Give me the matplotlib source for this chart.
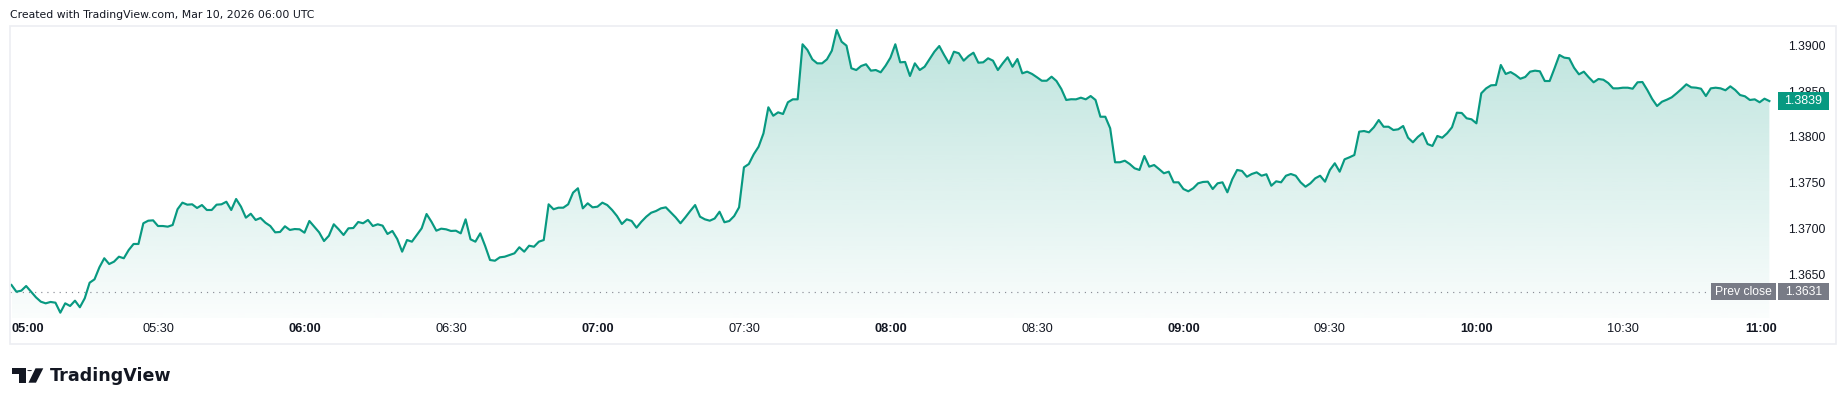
import numpy as np
import matplotlib
matplotlib.use("Agg")
import matplotlib.pyplot as plt
from matplotlib.patches import Rectangle, Polygon, Circle
from matplotlib.colors import to_rgb
from matplotlib.transforms import ScaledTranslation

# ---------------- data (1-minute closes, 05:00 .. 11:00 UTC) ----------------
prices = [
    1.36382, 1.36309, 1.36320, 1.36371, 1.36309, 1.36248, 1.36200, 1.36182, 1.36197, 1.36189,
    1.36080, 1.36182, 1.36153, 1.36211, 1.36139, 1.36237, 1.36407, 1.36444, 1.36575, 1.36674,
    1.36611, 1.36637, 1.36691, 1.36674, 1.36764, 1.36830, 1.36830, 1.37056, 1.37084, 1.37088,
    1.37026, 1.37026, 1.37019, 1.37037, 1.37209, 1.37281, 1.37259, 1.37263, 1.37223, 1.37255,
    1.37201, 1.37201, 1.37259, 1.37263, 1.37291, 1.37201, 1.37321, 1.37237, 1.37117, 1.37160,
    1.37092, 1.37114, 1.37062, 1.37026, 1.36957, 1.36961, 1.37023, 1.36983, 1.36993, 1.36990,
    1.36953, 1.37081, 1.37019, 1.36957, 1.36862, 1.36920, 1.37045, 1.36990, 1.36928, 1.37001,
    1.37004, 1.37070, 1.37056, 1.37092, 1.37026, 1.37045, 1.37030, 1.36939, 1.36972, 1.36884,
    1.36746, 1.36873, 1.36855, 1.36928, 1.37001, 1.37157, 1.37073, 1.36975, 1.36997, 1.36990,
    1.36972, 1.36975, 1.36946, 1.37099, 1.36881, 1.36855, 1.36946, 1.36808, 1.36655, 1.36647,
    1.36684, 1.36691, 1.36710, 1.36728, 1.36794, 1.36746, 1.36811, 1.36800, 1.36855, 1.36873,
    1.37263, 1.37209, 1.37226, 1.37226, 1.37263, 1.37390, 1.37438, 1.37219, 1.37274, 1.37230,
    1.37237, 1.37281, 1.37255, 1.37201, 1.37135, 1.37048, 1.37099, 1.37081, 1.37008, 1.37073,
    1.37128, 1.37171, 1.37190, 1.37219, 1.37230, 1.37176, 1.37121, 1.37056, 1.37121, 1.37190,
    1.37255, 1.37128, 1.37099, 1.37084, 1.37108, 1.37182, 1.37067, 1.37081, 1.37135, 1.37230,
    1.37667, 1.37703, 1.37809, 1.37892, 1.38038, 1.38322, 1.38230, 1.38267, 1.38249, 1.38377,
    1.38409, 1.38409, 1.39010, 1.38948, 1.38846, 1.38802, 1.38802, 1.38846, 1.38940, 1.39166,
    1.39038, 1.38995, 1.38748, 1.38729, 1.38773, 1.38792, 1.38722, 1.38729, 1.38704, 1.38776,
    1.38864, 1.39010, 1.38813, 1.38817, 1.38664, 1.38802, 1.38729, 1.38765, 1.38846, 1.38929,
    1.38991, 1.38893, 1.38802, 1.38929, 1.38912, 1.38831, 1.38882, 1.38918, 1.38809, 1.38813,
    1.38857, 1.38831, 1.38729, 1.38802, 1.38868, 1.38765, 1.38849, 1.38693, 1.38711, 1.38686,
    1.38650, 1.38612, 1.38612, 1.38656, 1.38609, 1.38522, 1.38402, 1.38410, 1.38409, 1.38427,
    1.38409, 1.38445, 1.38402, 1.38219, 1.38219, 1.38093, 1.37722, 1.37722, 1.37739, 1.37703,
    1.37656, 1.37638, 1.37790, 1.37674, 1.37692, 1.37648, 1.37602, 1.37619, 1.37503, 1.37503,
    1.37430, 1.37405, 1.37438, 1.37492, 1.37507, 1.37510, 1.37430, 1.37492, 1.37503, 1.37394,
    1.37536, 1.37638, 1.37627, 1.37564, 1.37594, 1.37612, 1.37575, 1.37591, 1.37466, 1.37514,
    1.37503, 1.37575, 1.37594, 1.37575, 1.37503, 1.37455, 1.37492, 1.37547, 1.37575, 1.37510,
    1.37638, 1.37711, 1.37619, 1.37754, 1.37776, 1.37801, 1.38056, 1.38063, 1.38049, 1.38104,
    1.38183, 1.38110, 1.38110, 1.38074, 1.38082, 1.38118, 1.37990, 1.37940, 1.37998, 1.38041,
    1.37921, 1.37900, 1.38009, 1.37990, 1.38038, 1.38104, 1.38263, 1.38260, 1.38202, 1.38191,
    1.38147, 1.38475, 1.38529, 1.38562, 1.38565, 1.38784, 1.38686, 1.38707, 1.38675, 1.38634,
    1.38653, 1.38711, 1.38722, 1.38715, 1.38609, 1.38609, 1.38748, 1.38893, 1.38864, 1.38857,
    1.38754, 1.38682, 1.38711, 1.38650, 1.38595, 1.38631, 1.38623, 1.38587, 1.38529, 1.38529,
    1.38536, 1.38536, 1.38525, 1.38595, 1.38598, 1.38511, 1.38413, 1.38336, 1.38383, 1.38405,
    1.38431, 1.38475, 1.38522, 1.38573, 1.38540, 1.38536, 1.38525, 1.38445, 1.38529, 1.38536,
    1.38529, 1.38508, 1.38551, 1.38511, 1.38456, 1.38442, 1.38402, 1.38409, 1.38377, 1.38416,
    1.38390,
]
minutes = np.arange(len(prices))          # minutes after 05:00

prev_close = 1.3631
last_price = 1.3839

time_ticks = [0, 30, 60, 90, 120, 150, 180, 210, 240, 270, 300, 330, 360]
time_labels = ["05:00", "05:30", "06:00", "06:30", "07:00", "07:30", "08:00",
               "08:30", "09:00", "09:30", "10:00", "10:30", "11:00"]
price_ticks = [1.3650, 1.3700, 1.3750, 1.3800, 1.3850, 1.3900]

header = "Created with TradingView.com, Mar 10, 2026 06:00 UTC"

# ---------------- styling ----------------
LINE = "#089981"
TXT = "#131722"
GREY = "#787b86"
W, H = 1846, 405
FONT = "Liberation Sans"

fig = plt.figure(figsize=(W / 100, H / 100), dpi=100)
fig.patch.set_facecolor("white")


def fx(x):
    return x / W


def fy(y):
    return 1 - y / H


# outer frame of the chart pane
fig.add_artist(Rectangle((fx(9.5), fy(344)), fx(1836) - fx(9.5), fy(25.7) - fy(344),
                         transform=fig.transFigure, fill=False, ec="#eceef2", lw=1.2))

# plotting area
ax_l, ax_r, ax_t, ax_b = 9.5, 1777, 26, 318
ax = fig.add_axes([fx(ax_l), fy(ax_b), (ax_r - ax_l) / W, (ax_b - ax_t) / H])
ax.set_facecolor("none")
px_per_min = 4.883
ax.set_xlim((ax_l - 11.5) / px_per_min, (ax_r - 11.5) / px_per_min)
px_per_unit = 9160.0
y0 = 1.39 - (ax_b - 45.2) / px_per_unit
y1 = 1.39 + (45.2 - ax_t) / px_per_unit
ax.set_ylim(y0, y1)
for s in ax.spines.values():
    s.set_visible(False)

# gradient area fill
fill = ax.fill_between(minutes, prices, y0, facecolor="none", edgecolor="none")
n = 256
rgb = np.array(to_rgb(LINE))
grad = np.zeros((n, 1, 4))
grad[..., :3] = rgb
grad[:, 0, 3] = np.linspace(0.27, 0.02, n)
im = ax.imshow(grad, aspect="auto", extent=[minutes[0], minutes[-1], y0, max(prices)],
               origin="upper", zorder=1, interpolation="bilinear")
im.set_clip_path(fill.get_paths()[0], transform=ax.transData)

# main line
ax.plot(minutes, prices, color=LINE, lw=1.55, zorder=3, solid_joinstyle="round")

# previous close dotted line
ax.axhline(prev_close, color="#8a8d96", lw=0.85, linestyle=(0, (1, 4.2)), zorder=2)

# axes ticks
ax.set_xticks(time_ticks, time_labels)
ax.tick_params(axis="x", length=0, pad=3.6, labelsize=9.2, labelcolor=TXT)
for lab, t in zip(ax.get_xticklabels(), time_ticks):
    lab.set_fontfamily(FONT)
    if t % 60 == 0:
        lab.set_fontweight("bold")
labs = ax.get_xticklabels()
labs[0].set_horizontalalignment("left")
labs[-1].set_horizontalalignment("right")
labs[-1].set_transform(labs[-1].get_transform() + ScaledTranslation(0.08, 0, fig.dpi_scale_trans))

ax.yaxis.tick_right()
ax.set_yticks(price_ticks, [f"{p:.4f}" for p in price_ticks])
ax.tick_params(axis="y", length=0, pad=8, labelsize=8.7, labelcolor=TXT)
for lab in ax.get_yticklabels():
    lab.set_fontfamily(FONT)
ax.grid(False)

# ---------------- price labels on the scale ----------------
fig.canvas.draw()


def ypix(p):
    # display y (pixels from bottom) -> top-based pixel coordinate
    return H - ax.transData.transform((0, p))[1]


def box(x_left, x_right, yc, h, color, text, fs=8.5):
    fig.add_artist(Rectangle((fx(x_left), fy(yc + h / 2)), fx(x_right) - fx(x_left),
                             fy(yc - h / 2) - fy(yc + h / 2), transform=fig.transFigure,
                             fc=color, ec="none", zorder=10))
    fig.text(fx((x_left + x_right) / 2), fy(yc), text, color="white", fontsize=fs,
             ha="center", va="center", family=FONT, zorder=11)


yl = ypix(last_price)
box(1778, 1829, yl, 17.5, LINE, f"{last_price:.4f}", 9)
yp = ypix(prev_close)
box(1711, 1776, yp, 16.5, GREY, "Prev close", 8.7)
box(1778, 1829, yp, 16.5, GREY, f"{prev_close:.4f}", 8.7)

# ---------------- header & footer ----------------
fig.text(fx(10), fy(18.5), header, fontsize=7.8, color=TXT, family="DejaVu Sans",
         ha="left", va="baseline")

# TradingView logo mark
logo = "#131722"
fig.add_artist(Polygon([(fx(12), fy(368.3)), (fx(26), fy(368.3)), (fx(26), fy(382.7)),
                        (fx(19), fy(382.7)), (fx(19), fy(373.8)), (fx(12), fy(373.8))],
                       closed=True, transform=fig.transFigure, fc=logo, ec="none"))
fig.add_artist(Circle((fx(29.6), fy(370.6)), 2.4 / W, transform=fig.transFigure,
                      fc=logo, ec="none"))
fig.add_artist(Polygon([(fx(35.5), fy(368.3)), (fx(43.3), fy(368.3)), (fx(36), fy(382.7)),
                        (fx(28.5), fy(382.7))],
                       closed=True, transform=fig.transFigure, fc=logo, ec="none"))
fig.text(fx(49.5), fy(380.7), "TradingView", fontsize=12.6, fontweight="bold",
         color=logo, family="DejaVu Sans", ha="left", va="baseline")

fig.savefig("out.png", dpi=100, facecolor="white")
